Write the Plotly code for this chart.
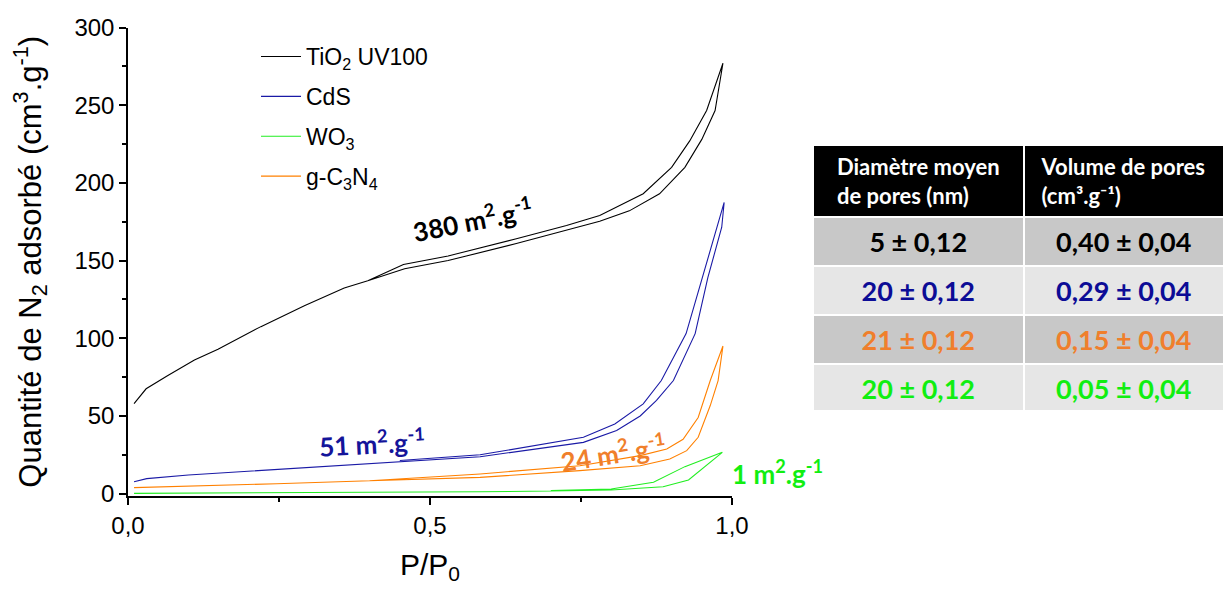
import plotly.graph_objects as go

# ---------------- data ----------------
SERIES_NAMES = ["TiO<sub>2</sub> UV100", "CdS", "WO<sub>3</sub>", "g-C<sub>3</sub>N<sub>4</sub>"]
SERIES_COLORS = ["#000000", "#1a1aa6", "#22ee22", "#ff8000"]

# TiO2 UV100 : adsorption then desorption branch
P_TIO2_ADS = [0.01, 0.03, 0.066, 0.11, 0.149, 0.22, 0.292, 0.358, 0.397, 0.458, 0.53, 0.643, 0.781, 0.83, 0.88, 0.922, 0.95, 0.972, 0.985]
Q_TIO2_ADS = [58, 67.5, 76, 86, 93, 107.5, 121, 132.4, 137, 144.7, 150, 161, 175.3, 182, 193, 210, 228, 246.6, 277]
P_TIO2_DES = [0.985, 0.972, 0.958, 0.93, 0.90, 0.853, 0.781, 0.726, 0.643, 0.53, 0.456, 0.397]
Q_TIO2_DES = [277, 262, 246.6, 227, 210, 193, 179, 172.6, 164, 153, 147.5, 137]

# CdS
P_CDS_ADS = [0.01, 0.031, 0.1, 0.246, 0.4, 0.583, 0.754, 0.809, 0.848, 0.875, 0.903, 0.939, 0.96, 0.983, 0.987]
Q_CDS_ADS = [7.7, 9.7, 12, 15.5, 19.5, 23.8, 33, 40.6, 50, 60, 72.8, 103, 139, 171.5, 187.4]
P_CDS_DES = [0.987, 0.975, 0.95, 0.924, 0.883, 0.853, 0.806, 0.754, 0.583, 0.45]
Q_CDS_DES = [187.4, 171.5, 139, 103, 72.8, 57.8, 44.9, 36.3, 25, 21.3]

# WO3
P_WO3_ADS = [0.01, 0.2, 0.4, 0.583, 0.7, 0.8, 0.886, 0.928, 0.984]
Q_WO3_ADS = [0.2, 0.4, 0.8, 1.2, 1.7, 2.4, 4.5, 8.8, 26.6]
P_WO3_DES = [0.984, 0.922, 0.87, 0.80, 0.7]
Q_WO3_DES = [26.6, 17.4, 7.3, 3.0, 2.0]

# g-C3N4
P_CN_ADS = [0.01, 0.1, 0.246, 0.4, 0.583, 0.748, 0.848, 0.897, 0.925, 0.944, 0.964, 0.977, 0.985]
Q_CN_ADS = [3.9, 4.8, 6.4, 8.3, 10.5, 14.8, 18, 22.3, 27.7, 36.3, 56.7, 72.8, 95]
P_CN_DES = [0.985, 0.964, 0.944, 0.919, 0.892, 0.848, 0.748, 0.583, 0.4]
Q_CN_DES = [95, 72.8, 49, 35, 28.7, 24.5, 18, 12.7, 8.3]

SURFACE_LABELS = ["380 m<sup>2</sup>.g<sup>-1</sup>", "51 m<sup>2</sup>.g<sup>-1</sup>",
                  "1 m<sup>2</sup>.g<sup>-1</sup>", "24 m<sup>2</sup>.g<sup>-1</sup>"]

# table
TABLE_HEADERS = ["<b>Diamètre moyen<br>de pores (nm)</b>", "<b>Volume de pores<br>(cm³.g⁻¹)</b>"]
PORE_DIAMETER = ["5 ± 0,12", "20 ± 0,12", "21 ± 0,12", "20 ± 0,12"]
PORE_VOLUME = ["0,40 ± 0,04", "0,29 ± 0,04", "0,15 ± 0,04", "0,05 ± 0,04"]
TABLE_TEXT_COLORS = ["#000000", "#0c0c96", "#f07f2c", "#11ee11"]
TABLE_FILLS = ["#c8c8c8", "#e6e6e6", "#c8c8c8", "#e6e6e6"]

# ---------------- figure ----------------
W, H = 1224, 590
def px(x):
    return x / W
def py(y):
    return 1 - y / H

fig = go.Figure()

series = [
    (P_TIO2_ADS + P_TIO2_DES, Q_TIO2_ADS + Q_TIO2_DES),
    (P_CDS_ADS + P_CDS_DES, Q_CDS_ADS + Q_CDS_DES),
    (P_WO3_ADS + P_WO3_DES, Q_WO3_ADS + Q_WO3_DES),
    (P_CN_ADS + P_CN_DES, Q_CN_ADS + Q_CN_DES),
]
for i, (xs, ys) in enumerate(series):
    fig.add_trace(go.Scatter(
        x=xs, y=ys, mode="lines", name=SERIES_NAMES[i],
        line=dict(color=SERIES_COLORS[i], width=1.1),
        legendgroup=str(i), legendrank=i,
    ))

fig.add_trace(go.Table(
    domain=dict(x=[px(813), 1.0], y=[py(410), py(145)]),
    columnwidth=[210, 200],
    header=dict(
        values=TABLE_HEADERS,
        fill_color="#000000",
        line=dict(color="#ffffff", width=2),
        font=dict(family="Lato", size=22, color="#ffffff"),
        align="center",
        height=68,
    ),
    cells=dict(
        values=[["<b>" + v + "</b>" for v in PORE_DIAMETER], ["<b>" + v + "</b>" for v in PORE_VOLUME]],
        fill_color=[TABLE_FILLS, TABLE_FILLS],
        line=dict(color="#ffffff", width=2),
        font=dict(family="Lato", size=27, color=[TABLE_TEXT_COLORS, TABLE_TEXT_COLORS]),
        align="center",
        height=47,
    ),
))

ann_font = dict(family="Lato", size=26)
annotations = [
    dict(text="<b>" + SURFACE_LABELS[0] + "</b>", x=px(472), y=py(219), textangle=-11, font=dict(color="#000000", **ann_font)),
    dict(text="<b>" + SURFACE_LABELS[1] + "</b>", x=px(372), y=py(442), textangle=-3, font=dict(color="#14149a", **ann_font)),
    dict(text="<b>" + SURFACE_LABELS[3] + "</b>", x=px(613), y=py(452), textangle=-9, font=dict(color="#f07f2c", **ann_font)),
    dict(text="<b>" + SURFACE_LABELS[2] + "</b>", x=px(777), y=py(472), textangle=0, font=dict(color="#11ee11", **ann_font)),
]
for a in annotations:
    a.update(xref="paper", yref="paper", showarrow=False, xanchor="center", yanchor="middle")

axis_font = dict(family="Liberation Sans, Arial", size=24, color="#000000")
fig.update_layout(
    width=W, height=H,
    margin=dict(l=0, r=0, t=0, b=0, autoexpand=False),
    paper_bgcolor="#ffffff", plot_bgcolor="#ffffff",
    separators=", ",
    font=dict(family="Liberation Sans, Arial", color="#000000"),
    annotations=annotations,
    showlegend=True,
    legend=dict(
        x=px(256), y=py(35), xanchor="left", yanchor="top",
        font=dict(family="Liberation Sans, Arial", size=23, color="#000000"),
        bgcolor="rgba(0,0,0,0)", tracegroupgap=7, itemwidth=40,
    ),
    xaxis=dict(
        domain=[px(128), px(732)], range=[0, 1.0], automargin=False,
        showgrid=False, zeroline=False, showline=True, linecolor="#000000", linewidth=1.5,
        ticks="outside", ticklen=7, tickwidth=1.5, tickcolor="#000000",
        tick0=0, dtick=0.5, tickformat=".1f", tickfont=axis_font,
        minor=dict(ticks="outside", dtick=0.25, ticklen=4, tickwidth=1.5, tickcolor="#000000"),
        title=dict(text="P/P<sub>0</sub>", font=dict(family="Liberation Sans, Arial", size=30), standoff=16),
        fixedrange=True,
    ),
    yaxis=dict(
        domain=[py(496), py(27.5)], range=[-1.5, 300], automargin=False,
        showgrid=False, zeroline=False, showline=True, linecolor="#000000", linewidth=1.5,
        ticks="outside", ticklen=7, tickwidth=1.5, tickcolor="#000000",
        tick0=0, dtick=50, tickfont=axis_font,
        minor=dict(ticks="outside", dtick=25, ticklen=4, tickwidth=1.5, tickcolor="#000000"),
        title=dict(text="Quantité de N<sub>2</sub> adsorbé (cm<sup>3</sup>.g<sup>-1</sup>)",
                   font=dict(family="Liberation Sans, Arial", size=31), standoff=24),
        fixedrange=True,
    ),
)

fig.write_html("out.html", config={"displayModeBar": False},
               post_script="document.body.style.margin='0px';")
